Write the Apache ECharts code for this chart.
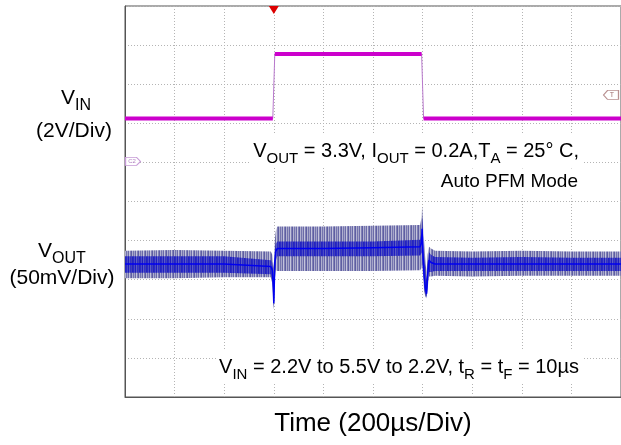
<!DOCTYPE html>
<html><head><meta charset="utf-8">
<script src="https://cdn.jsdelivr.net/npm/echarts@6/dist/echarts.min.js"></script>
<style>html,body{margin:0;padding:0;background:#fff}#c{width:621px;height:445px}</style>
</head><body><div id="c"></div>
<script>
// ---- Time axis (µs), 200 µs/div, trigger at t = 0 ----
const timeMin = -600, timeMax = 1400, timeStep = 200;
const triggerTime = 0;

// ---- VIN trace (V), 2 V/div ----
const vinTime  = [-600, -4, 4, 596, 604, 1400];
const vinVolts = [2.2, 2.2, 5.5, 5.5, 2.2, 2.2];
const vinGround = 0;          // channel ground marker
const triggerLevel = 3.4;     // trigger level marker (V)

// ---- VOUT trace (mV), 50 mV/div, envelope ----
const voutTime    = [-600,-400,-200, -12,  -6,  -2,   0,   2,   4,   8,  14, 200, 400, 590, 596, 598, 602, 606, 612, 616, 620, 626, 634, 650, 800,1000,1200,1400];
const voutOuterHi = [3317,3318,3317,3316,3312,3300,3295,3312,3330,3342,3348,3348,3349,3350,3360,3374,3350,3330,3300,3290,3312,3322,3320,3317,3316,3317,3316,3316];
const voutOuterLo = [3282,3282,3283,3283,3275,3250,3242,3250,3280,3292,3291,3291,3291,3292,3295,3300,3285,3265,3258,3256,3268,3284,3284,3285,3284,3285,3285,3285];
const voutCoreHi  = [3310,3310,3310,3305,3302,3290,3280,3295,3316,3326,3329,3329,3329,3331,3342,3360,3335,3310,3290,3280,3300,3315,3312,3309,3308,3309,3308,3308];
const voutCoreLo  = [3289,3289,3289,3287,3282,3255,3245,3258,3290,3304,3310,3310,3310,3311,3314,3315,3290,3270,3260,3258,3272,3290,3290,3291,3291,3291,3291,3291];
const voutMid     = [3300,3300,3300,3297,3292,3270,3250,3275,3303,3316,3320,3320,3321,3322,3328,3345,3310,3285,3268,3262,3285,3305,3302,3300,3300,3300,3300,3300];

const FONT = '"Liberation Sans", Arial, Helvetica, sans-serif';
const pairs = (xs, ys) => xs.map((x, i) => [x, ys[i]]);

// thick VIN level segments, broken at the edges
const vinLevels = [];
vinTime.forEach((t, i) => {
  if (i > 0 && vinVolts[i] !== vinVolts[i - 1]) vinLevels.push([t, '-']);
  vinLevels.push([t, vinVolts[i]]);
});

// vertical-stroke texture (styling only) imitating the scope's persistence display
function stripes(cols) {
  const cv = document.createElement('canvas');
  cv.width = cols.length; cv.height = 1;
  const g = cv.getContext('2d');
  cols.forEach((c, i) => { g.fillStyle = c; g.fillRect(i, 0, 1, 1); });
  return {image: cv, repeat: 'repeat'};
}
const outerFill = stripes(['#7474ae', '#a4a4c8', '#6a6aa8', '#c4c4dc', '#8080b4', '#5e5ea2', '#b0b0cf']);
const coreFill  = stripes(['#2a2ac4', '#4a4ac6', '#1e1ebe', '#5c5cc4', '#3030c8', '#4040b8', '#2424c0']);

const chart = echarts.init(document.getElementById('c'), null, {renderer: 'canvas'});
const gridLine = {show: true, lineStyle: {color: '#b4b4b4', type: [1, 2], width: 1}};
const border = {show: true, onZero: false, lineStyle: {color: '#555', width: 1}};

// envelope band drawn as one polygon through the axes' scales
const bandSeries = (lo, hi, fill) => ({
  type: 'custom', yAxisIndex: 2, silent: true, clip: true,
  data: voutTime.map((t, i) => [t, lo[i], hi[i]]),
  encode: {x: 0, y: [1, 2]},
  renderItem: (params, api) => {
    if (params.dataIndexInside !== 0) return null;
    const n = params.dataInsideLength;
    const pts = [];
    for (let i = 0; i < n; i++) pts.push(api.coord([api.value(0, i), api.value(2, i)]));
    for (let i = n - 1; i >= 0; i--) pts.push(api.coord([api.value(0, i), api.value(1, i)]));
    return {type: 'polygon', shape: {points: pts}, style: {fill: fill, stroke: null}};
  }
});

chart.setOption({
  animation: false,
  grid: {left: 125, right: -4, top: 6, bottom: 48, show: true, borderColor: '#555', borderWidth: 1},
  xAxis: {type: 'value', min: timeMin, max: timeMax, interval: timeStep,
    axisLabel: {show: false}, axisTick: {show: false}, axisLine: border, splitLine: gridLine},
  yAxis: [
    {type: 'value', min: 0, max: 10, interval: 1, axisLabel: {show: false}, axisTick: {show: false},
     axisLine: border, splitLine: gridLine},
    {type: 'value', min: -12.05, max: 7.95, show: false, axisLine: {onZero: false}},
    {type: 'value', min: 3130, max: 3630, show: false, axisLine: {onZero: false}}
  ],
  series: [
    bandSeries(voutOuterLo, voutOuterHi, outerFill),
    bandSeries(voutCoreLo, voutCoreHi, coreFill),
    {name: 'VOUT', type: 'line', yAxisIndex: 2, data: pairs(voutTime, voutMid), symbol: 'none',
     lineStyle: {color: '#0000f0', width: 1.5}},
    {name: 'VIN edge', type: 'line', yAxisIndex: 1, data: pairs(vinTime, vinVolts), symbol: 'none',
     lineStyle: {color: '#b878cc', width: 1}},
    {name: 'VIN', type: 'line', yAxisIndex: 1, data: vinLevels, symbol: 'none', connectNulls: false,
     lineStyle: {color: '#cc00cc', width: 4, cap: 'butt'},
     markPoint: {
       silent: true, animation: false,
       data: [
         {coord: [triggerTime, 7.95], symbol: 'triangle', symbolSize: [10, 8], symbolRotate: 180,
          symbolOffset: [0, 4], itemStyle: {color: '#dd0000'}, label: {show: false}},
         {coord: [timeMin, vinGround], symbol: 'path://M0,0 L11,0 L15,4 L11,8 L0,8 Z', symbolSize: [15, 8],
          symbolOffset: [8, 0], itemStyle: {color: '#fff', borderColor: '#c69ad6', borderWidth: 1},
          label: {show: true, formatter: 'C2', fontSize: 6, color: '#b080c0', offset: [-1, 0]}},
         {coord: [timeMax, triggerLevel], symbol: 'path://M4,0 L15,0 L15,8 L4,8 L0,4 Z', symbolSize: [15, 9],
          symbolOffset: [-10, 0], itemStyle: {color: '#fff', borderColor: '#b89090', borderWidth: 1},
          label: {show: true, formatter: 'T', fontSize: 7, color: '#a07070', offset: [1, 0]}}
       ]
     }}
  ],
  graphic: [
    {type: 'text', x: 76, y: 98, z: 10, style: {text: 'V{s|IN}', fontSize: 21, fontFamily: FONT, fill: '#000',
      align: 'center', verticalAlign: 'middle', rich: {s: {fontSize: 16, fontFamily: FONT, padding: [15, 0, 0, 0]}}}},
    {type: 'text', x: 74, y: 131, z: 10, style: {text: '(2V/Div)', fontSize: 21, fontFamily: FONT, fill: '#000',
      align: 'center', verticalAlign: 'middle'}},
    {type: 'text', x: 62, y: 251, z: 10, style: {text: 'V{s|OUT}', fontSize: 21, fontFamily: FONT, fill: '#000',
      align: 'center', verticalAlign: 'middle', rich: {s: {fontSize: 16, fontFamily: FONT, padding: [15, 0, 0, 0]}}}},
    {type: 'text', x: 62, y: 278, z: 10, style: {text: '(50mV/Div)', fontSize: 21, fontFamily: FONT, fill: '#000',
      align: 'center', verticalAlign: 'middle'}},
    {type: 'text', x: 582, y: 151, z: 10, style: {
      text: 'V{s|OUT} = 3.3V, I{s|OUT} = 0.2A,T{s|A} = 25° C,', fontSize: 20, fontFamily: FONT, fill: '#000',
      align: 'right', verticalAlign: 'middle', backgroundColor: '#fff', padding: [2, 3, 2, 3],
      rich: {s: {fontSize: 15, fontFamily: FONT, padding: [15, 0, 0, 0]}}}},
    {type: 'text', x: 581, y: 182, z: 10, style: {
      text: 'Auto PFM Mode', fontSize: 19, fontFamily: FONT, fill: '#000',
      align: 'right', verticalAlign: 'middle', backgroundColor: '#fff', padding: [4, 3, 4, 3]}},
    {type: 'text', x: 582, y: 367, z: 10, style: {
      text: 'V{s|IN} = 2.2V to 5.5V to 2.2V, t{s|R} = t{s|F} = 10µs', fontSize: 20, fontFamily: FONT, fill: '#000',
      align: 'right', verticalAlign: 'middle', backgroundColor: '#fff', padding: [2, 3, 2, 3],
      rich: {s: {fontSize: 15, fontFamily: FONT, padding: [15, 0, 0, 0]}}}},
    {type: 'text', x: 373, y: 424, z: 10, style: {text: 'Time (200µs/Div)', fontSize: 26, fontFamily: FONT, fill: '#000',
      align: 'center', verticalAlign: 'middle'}}
  ]
});
</script></body></html>
